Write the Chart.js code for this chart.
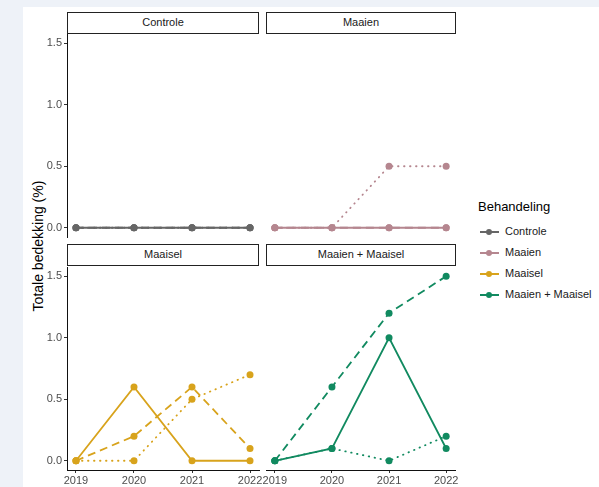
<!DOCTYPE html>
<html>
<head>
<meta charset="utf-8">
<script src="https://cdn.jsdelivr.net/npm/chart.js@4.4.0/dist/chart.umd.min.js"></script>
<style>
  body { margin: 0; background: #eef2f8; font-family: "Liberation Sans", Arial, sans-serif; }
  #sheet { position: absolute; left: 23px; top: 7px; width: 576px; height: 480px; background: #fff; }
  canvas { position: absolute; }
  .strip { position: absolute; box-sizing: border-box; border: 1.5px solid #222; background: #fff;
           font-size: 11px; color: #1a1a1a; text-align: center; line-height: 19px; }
  #ytitle { position: absolute; left: 38px; top: 246px; transform: translate(-50%, -50%) rotate(-90deg);
            font-size: 14px; color: #000; white-space: nowrap; }
  #legend { position: absolute; left: 478px; top: 199px; white-space: nowrap; }
  #legend .ttl { font-size: 13px; color: #000; margin-bottom: 8px; }
  #legend .item { position: relative; height: 21px; font-size: 11px; color: #1a1a1a; }
  #legend .ln { position: absolute; left: 2px; top: 9px; width: 19px; height: 2px; }
  #legend .dt { position: absolute; left: 8px; top: 7px; width: 6px; height: 6px; border-radius: 50%; }
  #legend .lb { position: absolute; left: 27px; top: 3px; }
</style>
</head>
<body>
<div id="sheet"></div>
<div id="ytitle">Totale bedekking (%)</div>

<div class="strip" style="left:67px;top:12px;width:192px;height:22px">Controle</div>
<div class="strip" style="left:266px;top:12px;width:190px;height:22px">Maaien</div>
<div class="strip" style="left:67px;top:244px;width:192px;height:22px">Maaisel</div>
<div class="strip" style="left:266px;top:244px;width:190px;height:22px">Maaien + Maaisel</div>

<canvas id="c0" width="236" height="212" style="left:25px;top:30px"></canvas>
<canvas id="c1" width="193" height="212" style="left:264px;top:30px"></canvas>
<canvas id="c2" width="250" height="224" style="left:25px;top:263px"></canvas>
<canvas id="c3" width="215" height="224" style="left:252px;top:263px"></canvas>

<div id="legend"></div>

<script>
// data
const years = [2019, 2020, 2021, 2022];
const treatments = ["Controle", "Maaien", "Maaisel", "Maaien + Maaisel"];
const colors = ["#666666", "#b5868f", "#d8a31c", "#118a60"];
const yTicks = [0, 0.5, 1.0, 1.5];

// three plots per treatment (solid, dashed, dotted)
const controle1 = [0, 0, 0, 0];
const controle2 = [0, 0, 0, 0];
const controle3 = [0, 0, 0, 0];
const maaien1 = [0, 0, 0, 0];
const maaien2 = [0, 0, 0, 0];
const maaien3 = [0, 0, 0.5, 0.5];
const maaisel1 = [0, 0.6, 0, 0];
const maaisel2 = [0, 0.2, 0.6, 0.1];
const maaisel3 = [0, 0, 0.5, 0.7];
const beide1 = [0, 0.1, 1.0, 0.1];
const beide2 = [0, 0.6, 1.2, 1.5];
const beide3 = [0, 0.1, 0, 0.2];

const panelData = [
  [controle1, controle2, controle3],
  [maaien1, maaien2, maaien3],
  [maaisel1, maaisel2, maaisel3],
  [beide1, beide2, beide3]
];
const dashes = [[], [8, 5], [0.5, 5.5]];
// per panel canvas padding so the plot areas line up
const pads = [
  { top: 4, right: 2, left: 0, bottom: 5 },
  { top: 4, right: 2, left: 2, bottom: 5 },
  { top: 4, right: 16, left: 0, bottom: 0 },
  { top: 4, right: 12, left: 14, bottom: 0 }
];

function makePanel(i) {
  const left = i % 2 === 0;
  const bottom = i >= 2;
  const col = colors[i];
  const datasets = panelData[i].map((vals, k) => ({
    data: vals.map((v, j) => ({ x: years[j], y: v })),
    borderColor: col,
    backgroundColor: col,
    borderWidth: 1.8,
    borderDash: dashes[k],
    borderCapStyle: k === 2 ? "round" : "butt",
    pointRadius: 3.5,
    pointBorderWidth: 0,
    pointBackgroundColor: col,
    tension: 0
  }));

  new Chart(document.getElementById("c" + i), {
    type: "line",
    data: { datasets: datasets },
    options: {
      responsive: false,
      animation: false,
      devicePixelRatio: 1,
      layout: { autoPadding: false, padding: pads[i] },
      plugins: { legend: { display: false }, tooltip: { enabled: false } },
      scales: {
        x: {
          type: "linear",
          min: 2018.845,
          max: 2022.155,
          display: bottom,
          afterBuildTicks: ax => { ax.ticks = years.map(v => ({ value: v })); },
          afterFit: s => {
            if (!bottom) return;
            s.height = 17; s.paddingLeft = 0; s.paddingRight = 0;
          },
          grid: { drawOnChartArea: false, drawTicks: true, tickLength: 3, color: "#333" },
          border: { display: true, color: "#111", width: 1 },
          ticks: {
            padding: 1, maxRotation: 0, autoSkip: false,
            color: "#4d4d4d", font: { size: 11, family: "Liberation Sans" },
            callback: v => String(v)
          }
        },
        y: {
          min: -0.075,
          max: 1.575,
          display: left,
          afterBuildTicks: ax => { ax.ticks = yTicks.map(v => ({ value: v })); },
          afterFit: s => {
            if (!left) return;
            s.width = 42; s.paddingTop = 0; s.paddingBottom = 0;
          },
          grid: { drawOnChartArea: false, drawTicks: true, tickLength: 3, color: "#333" },
          border: { display: true, color: "#111", width: 1 },
          ticks: {
            padding: 2,
            color: "#4d4d4d", font: { size: 11, family: "Liberation Sans" },
            callback: v => v.toFixed(1)
          }
        }
      }
    }
  });
}

[0, 1, 2, 3].forEach(makePanel);

// legend
const lg = document.getElementById("legend");
let html = '<div class="ttl">Behandeling</div>';
treatments.forEach((t, i) => {
  html += '<div class="item"><div class="ln" style="background:' + colors[i] + '"></div>' +
          '<div class="dt" style="background:' + colors[i] + '"></div>' +
          '<div class="lb">' + t + '</div></div>';
});
lg.innerHTML = html;
</script>
</body>
</html>
